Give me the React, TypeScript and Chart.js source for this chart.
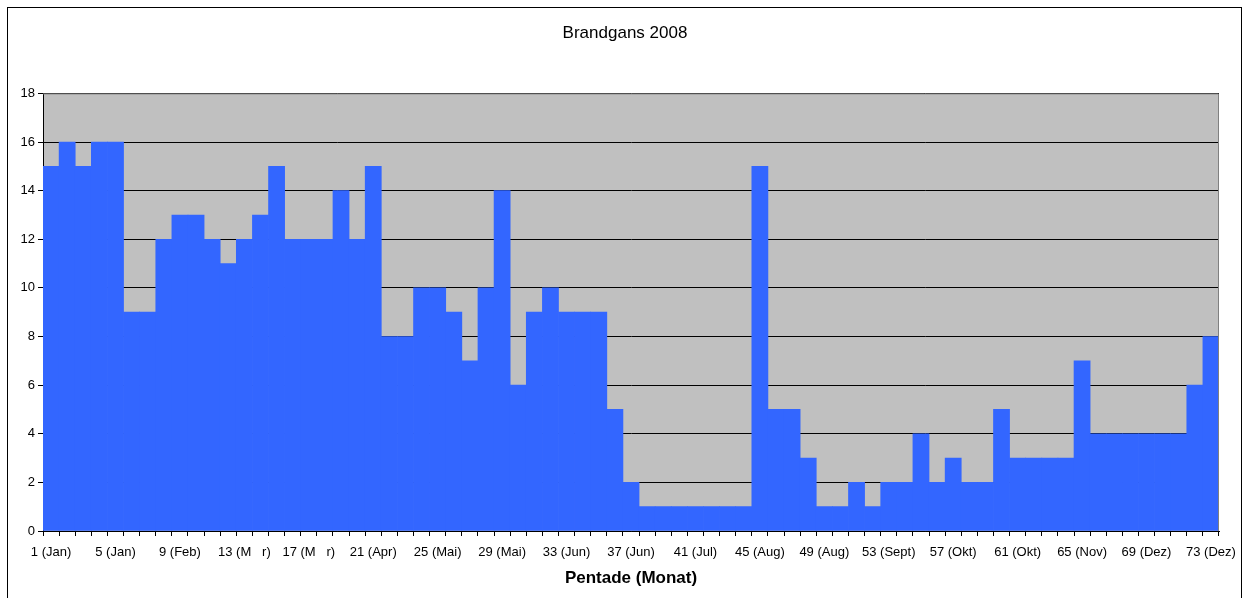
import React, { useEffect, useRef } from "react";
import { Chart, registerables } from "chart.js";

Chart.register(...registerables);

const title = "Brandgans 2008";
const xAxisTitle = "Pentade (Monat)";

const pentades: number[] = [
  1, 2, 3, 4, 5, 6, 7, 8, 9, 10, 11, 12, 13, 14, 15, 16, 17, 18, 19, 20,
  21, 22, 23, 24, 25, 26, 27, 28, 29, 30, 31, 32, 33, 34, 35, 36, 37, 38, 39, 40,
  41, 42, 43, 44, 45, 46, 47, 48, 49, 50, 51, 52, 53, 54, 55, 56, 57, 58, 59, 60,
  61, 62, 63, 64, 65, 66, 67, 68, 69, 70, 71, 72, 73,
];

const counts: number[] = [
  15, 16, 15, 16, 16, 9, 9, 12, 13, 13, 12, 11, 12, 13, 15, 12, 12, 12, 14, 12,
  15, 8, 8, 10, 10, 9, 7, 10, 14, 6, 9, 10, 9, 9, 9, 5, 2, 1, 1, 1,
  1, 1, 1, 1, 15, 5, 5, 3, 1, 1, 2, 1, 2, 2, 4, 2, 3, 2, 2, 5,
  3, 3, 3, 3, 7, 4, 4, 4, 4, 4, 4, 6, 8,
];

const tickLabels: string[] = [
  "1 (Jan)", "5 (Jan)", "9 (Feb)", "13 (M   r)", "17 (M   r)", "21 (Apr)",
  "25 (Mai)", "29 (Mai)", "33 (Jun)", "37 (Jun)", "41 (Jul)", "45 (Aug)",
  "49 (Aug)", "53 (Sept)", "57 (Okt)", "61 (Okt)", "65 (Nov)", "69 (Dez)", "73 (Dez)",
];

const FONT = "Arial, 'Liberation Sans', sans-serif";

const framePlugin = {
  id: "frame",
  beforeDraw(chart: any) {
    const { ctx, chartArea } = chart;
    ctx.save();
    ctx.fillStyle = "#ffffff";
    ctx.fillRect(0, 0, chart.width, chart.height);
    ctx.fillStyle = "#C0C0C0";
    ctx.fillRect(chartArea.left, chartArea.top, chartArea.right - chartArea.left, chartArea.bottom - chartArea.top);
    ctx.restore();
  },
  afterDraw(chart: any) {
    const { ctx, chartArea } = chart;
    ctx.save();
    ctx.strokeStyle = "#808080";
    ctx.lineWidth = 1;
    ctx.beginPath();
    ctx.moveTo(chartArea.left, chartArea.top + 0.5);
    ctx.lineTo(chartArea.right - 0.5, chartArea.top + 0.5);
    ctx.lineTo(chartArea.right - 0.5, chartArea.bottom);
    ctx.stroke();
    ctx.strokeStyle = "#000000";
    ctx.strokeRect(7.5, 7.5, 1234, 620);
    ctx.restore();
  },
};

export default function App() {
  const ref = useRef<HTMLCanvasElement | null>(null);

  useEffect(() => {
    if (!ref.current) return;
    Chart.defaults.font.family = FONT;
    const chart = new Chart(ref.current, {
      type: "bar",
      data: {
        labels: pentades,
        datasets: [
          {
            label: title,
            data: counts,
            backgroundColor: "#3366FF",
            borderWidth: 0,
            barPercentage: 1,
            categoryPercentage: 1,
          },
        ],
      },
      plugins: [framePlugin],
      options: {
        animation: false,
        responsive: true,
        maintainAspectRatio: false,
        layout: { padding: { left: 7, right: 0, top: 0, bottom: 0 } },
        plugins: {
          legend: { display: false },
          tooltip: { enabled: false },
          title: {
            display: true,
            text: title,
            color: "#000000",
            font: { family: FONT, size: 17, weight: "normal" },
            padding: { top: 23, bottom: 50 },
          },
        },
        scales: {
          x: {
            type: "category",
            grid: {
              offset: true,
              drawOnChartArea: false,
              drawTicks: true,
              tickLength: 5,
              color: "#000000",
            },
            border: { display: true, color: "#000000", width: 1 },
            ticks: {
              autoSkip: false,
              maxRotation: 0,
              minRotation: 0,
              padding: 9,
              color: "#000000",
              font: { family: FONT, size: 13 },
              callback: (_v: any, i: number) => (i % 4 === 0 ? tickLabels[i / 4] : ""),
            },
            title: {
              display: true,
              text: xAxisTitle,
              color: "#000000",
              font: { family: FONT, size: 17, weight: "bold" },
              padding: { top: 0, bottom: 9 },
            },
            afterFit: (s: any) => {
              s.height = 67;
              s.paddingLeft = 0;
              s.paddingRight = 0;
            },
          },
          y: {
            min: 0,
            max: 18,
            ticks: {
              stepSize: 2,
              padding: 3,
              color: "#000000",
              font: { family: FONT, size: 13 },
            },
            grid: {
              color: "#000000",
              lineWidth: 1,
              tickLength: 5,
              tickColor: "#000000",
            },
            border: { display: true, color: "#000000", width: 1 },
            afterFit: (s: any) => {
              s.width = 36;
            },
          },
          y2: {
            position: "right",
            display: true,
            min: 0,
            max: 18,
            grid: { drawOnChartArea: false, drawTicks: false },
            border: { display: false },
            ticks: { display: false },
            afterFit: (s: any) => {
              s.width = 24;
            },
          },
        },
      },
    } as any);
    return () => chart.destroy();
  }, []);

  return (
    <div style={{ position: "absolute", left: 0, top: 0, width: 1243, height: 598, background: "#fff" }}>
      <canvas ref={ref} />
    </div>
  );
}
